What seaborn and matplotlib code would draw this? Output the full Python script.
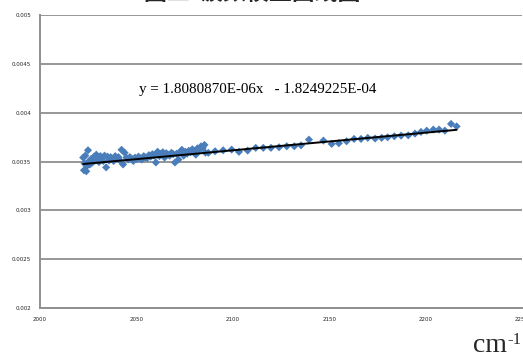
import numpy as np
import pandas as pd
import seaborn as sns
import matplotlib
matplotlib.use("Agg")
import matplotlib.pyplot as plt

# Measured wavenumber (cm^-1) vs. correction value
wavenumber = [
    2022.4, 2022.8, 2023.1, 2023.5, 2024.0, 2024.4, 2024.9, 2025.3, 2025.9, 2026.5,
    2027.2, 2027.8, 2028.5, 2029.2, 2029.9, 2030.6, 2031.3, 2032.0, 2032.8, 2033.5,
    2034.3, 2035.0, 2035.8, 2036.6, 2037.4, 2038.2, 2039.0, 2039.8, 2040.7, 2041.5,
    2042.3, 2043.1, 2043.9, 2044.8, 2045.7, 2046.6, 2047.5, 2048.4, 2049.3, 2050.2,
    2051.1, 2052.0, 2052.9, 2053.8, 2054.7, 2055.6, 2056.5, 2057.4, 2058.3, 2059.2,
    2060.1, 2061.0, 2061.9, 2062.8, 2063.7, 2064.6, 2065.5, 2066.4, 2067.3, 2068.2,
    2069.1, 2070.0, 2070.9, 2071.8, 2072.7, 2073.6, 2074.5, 2075.4, 2076.3, 2077.2,
    2078.1, 2079.0, 2079.9, 2080.8, 2081.7, 2082.6, 2083.5, 2084.4, 2085.3, 2085.8,
    2087.3, 2090.8, 2095.0, 2099.4, 2103.2, 2107.7, 2111.9, 2115.8, 2119.8, 2124.0,
    2128.0, 2131.9, 2135.4, 2139.5, 2147.0, 2151.3, 2155.0, 2159.0, 2162.9, 2166.5,
    2170.0, 2173.8, 2177.2, 2180.3, 2183.8, 2187.3, 2191.0, 2194.5, 2197.6, 2200.6,
    2204.0, 2207.0, 2210.0, 2213.2, 2216.1,
]
correction = [
    0.003540, 0.003410, 0.003480, 0.003560, 0.003400, 0.003455, 0.003615, 0.003500, 0.003470, 0.003525,
    0.003490, 0.003545, 0.003510, 0.003570, 0.003530, 0.003495, 0.003555, 0.003530, 0.003505, 0.003560,
    0.003440, 0.003550, 0.003510, 0.003545, 0.003525, 0.003505, 0.003555, 0.003530, 0.003545, 0.003510,
    0.003620, 0.003470, 0.003590, 0.003540, 0.003520, 0.003545, 0.003530, 0.003505, 0.003540, 0.003525,
    0.003550, 0.003530, 0.003520, 0.003555, 0.003540, 0.003535, 0.003565, 0.003550, 0.003575, 0.003560,
    0.003490, 0.003600, 0.003555, 0.003580, 0.003595, 0.003540, 0.003585, 0.003570, 0.003560, 0.003590,
    0.003575, 0.003490, 0.003580, 0.003520, 0.003600, 0.003620, 0.003560, 0.003600, 0.003580, 0.003610,
    0.003595, 0.003625, 0.003610, 0.003570, 0.003635, 0.003615, 0.003655, 0.003640, 0.003670, 0.003590,
    0.003589, 0.003605, 0.003615, 0.003622, 0.003599, 0.003612, 0.003640, 0.003640, 0.003640, 0.003646,
    0.003656, 0.003656, 0.003666, 0.003724, 0.003714, 0.003680, 0.003687, 0.003707, 0.003731, 0.003731,
    0.003742, 0.003735, 0.003742, 0.003748, 0.003758, 0.003765, 0.003768, 0.003786, 0.003803, 0.003816,
    0.003827, 0.003827, 0.003816, 0.003885, 0.003860,
]

# Linear fit coefficients shown in the equation label
slope = 1.8080870e-06
intercept = -1.8249225e-04

x_ticks = [2000, 2050, 2100, 2150, 2200, 2250]
x_tick_labels = ["2000", "2050", "2100", "2150", "2200", "2250"]
y_ticks = [0.002, 0.0025, 0.003, 0.0035, 0.004, 0.0045, 0.005]
y_tick_labels = ["0.002", "0.0025", "0.003", "0.0035", "0.004", "0.0045", "0.005"]

title_text = "图二  波数校正曲线图"
equation_text = "y = 1.8080870E-06x   - 1.8249225E-04"

sns.set_style("white")
plt.rcParams["font.family"] = ["Noto Sans CJK SC", "DejaVu Sans"]

df = pd.DataFrame({"wavenumber": wavenumber, "correction": correction})
x_ends = [min(wavenumber), max(wavenumber)]
fit = pd.DataFrame({"wavenumber": x_ends,
                    "correction": [slope * v + intercept for v in x_ends]})

fig = plt.figure(figsize=(5.23, 3.56), dpi=100)
ax = fig.add_axes([40 / 523, 1 - 308 / 356, 482 / 523, 293 / 356])

grid_color = "#8f8f8f"
for yv in y_ticks:
    ax.axhline(yv, color=grid_color, lw=1.3, zorder=0)

sns.scatterplot(data=df, x="wavenumber", y="correction", ax=ax, marker="D",
                s=17, color="#4A7EBB", edgecolor="none", zorder=2)
sns.lineplot(data=fit, x="wavenumber", y="correction", ax=ax, color="black",
             lw=1.4, zorder=3)

ax.set_xlim(2000, 2250)
ax.set_ylim(0.002, 0.005)
ax.set_xticks(x_ticks)
ax.set_xticklabels(x_tick_labels, fontsize=4, family="DejaVu Sans")
ax.set_yticks(y_ticks)
ax.set_yticklabels(y_tick_labels, fontsize=4, family="DejaVu Sans")
ax.tick_params(axis="both", direction="out", length=3.5, width=1.0,
               color=grid_color, pad=3, labelcolor="#222222")
ax.set_xlabel("")
ax.set_ylabel("")

for side in ("top", "right"):
    ax.spines[side].set_visible(False)
for side in ("left", "bottom"):
    ax.spines[side].set_color(grid_color)
    ax.spines[side].set_linewidth(1.4)

ax.text(2051.5, 0.00424, equation_text, fontsize=10.8, family="Liberation Serif",
        va="center", ha="left", color="black")

# Unit label: "cm" with a raised "-1"
fig.text(473 / 523, 1 - 352 / 356, "cm", fontsize=20,
         family="Liberation Serif", ha="left", va="baseline")
fig.text(507 / 523, 1 - 344 / 356, "-1", fontsize=12,
         family="Liberation Serif", ha="left", va="baseline")

fig.text(252 / 523, 1.0, title_text, fontsize=16.5, weight="bold",
         ha="center", va="baseline")

fig.savefig("out.png", dpi=100)
